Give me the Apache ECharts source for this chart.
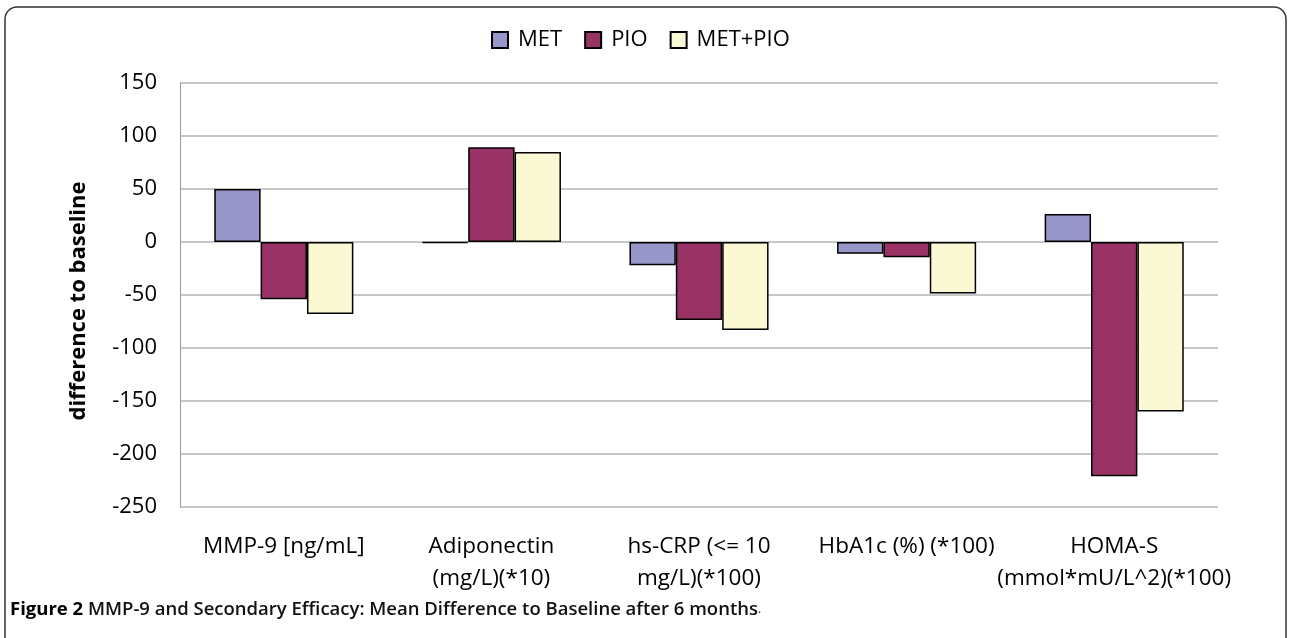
<!DOCTYPE html>
<html><head><meta charset="utf-8">
<script src="https://cdn.jsdelivr.net/npm/echarts@6/dist/echarts.min.js"></script>
<style>html,body{margin:0;padding:0;background:#fff}#c{width:1290px;height:638px}</style>
</head><body><div id="c"></div>
<script>
const categories = ["MMP-9 [ng/mL]", "Adiponectin\n(mg/L)(*10)", "hs-CRP (<= 10\nmg/L)(*100)", "HbA1c (%) (*100)", "HOMA-S\n(mmol*mU/L^2)(*100)"];
const seriesNames = ["MET", "PIO", "MET+PIO"];
const metValues = [50, -1, -22, -11, 26.5];
const pioValues = [-54, 89.5, -73.5, -14.5, -221];
const metPioValues = [-68, 85, -83, -48.5, -160];
const yTicks = { min: -250, max: 150, interval: 50 };
const yTitle = "difference to baseline";
const captionBold = "Figure 2";
const captionRest = " MMP-9 and Secondary Efficacy: Mean Difference to Baseline after 6 months";

const FONT = '"Open Sans", Lato, sans-serif';
const colors = ["#9797C9", "#993366", "#FBF9D3"];
const chart = echarts.init(document.getElementById('c'));
const mk = (name, data, i) => ({
  name, type: 'bar', data, barGap: '0%', barCategoryGap: '33%',
  itemStyle: { color: colors[i], borderColor: '#000', borderWidth: 1.5 }
});
chart.setOption({
  animation: false,
  textStyle: { fontFamily: FONT },
  legend: {
    top: 24, left: 486, itemWidth: 16, itemHeight: 16, itemGap: 22, icon: 'rect',
    textStyle: { fontSize: 22, color: '#000', fontFamily: FONT, padding: [0, 0, 0, 5] },
    data: seriesNames.map((n, i) => ({ name: n, itemStyle: { color: colors[i], borderColor: '#000', borderWidth: 2 } }))
  },
  grid: { left: 180, right: 72, top: 83, bottom: 131, containLabel: false },
  xAxis: {
    type: 'category', data: categories, position: 'bottom',
    axisLine: { show: false }, axisTick: { show: false },
    axisLabel: { interval: 0, fontSize: 22.5, color: '#000', lineHeight: 32, margin: 24, fontFamily: FONT }
  },
  yAxis: {
    type: 'value', min: yTicks.min, max: yTicks.max, interval: yTicks.interval,
    name: yTitle, nameLocation: 'middle', nameGap: 90, nameRotate: 90,
    nameTextStyle: { fontSize: 22, fontWeight: 'bold', color: '#000', fontFamily: FONT, padding: [0, 12, 0, 0] },
    axisLine: { show: true, onZero: false, lineStyle: { color: '#999', width: 1 } },
    axisTick: { show: false },
    axisLabel: { fontSize: 22, color: '#000', margin: 23, fontFamily: FONT },
    splitLine: { lineStyle: { color: '#B5B5B5', width: 1.5 } }
  },
  series: [mk(seriesNames[0], metValues, 0), mk(seriesNames[1], pioValues, 1), mk(seriesNames[2], metPioValues, 2)],
  graphic: [
    { type: 'rect', z: -1, shape: { x: 5, y: 7, width: 1281, height: 700, r: 12 },
      style: { fill: 'none', stroke: '#333', lineWidth: 1.5 } },
    { type: 'text', left: 10, top: 600,
      style: { text: '{b|' + captionBold + '}{r|' + captionRest + '}{s|.}',
        rich: {
          b: { fontSize: 18.5, fontWeight: 'bold', fill: '#000', fontFamily: FONT },
          r: { fontSize: 18.5, fontWeight: 600, fill: '#111', fontFamily: FONT },
          s: { fontSize: 12, fill: '#111', fontFamily: FONT }
        } } }
  ]
});
</script></body></html>
